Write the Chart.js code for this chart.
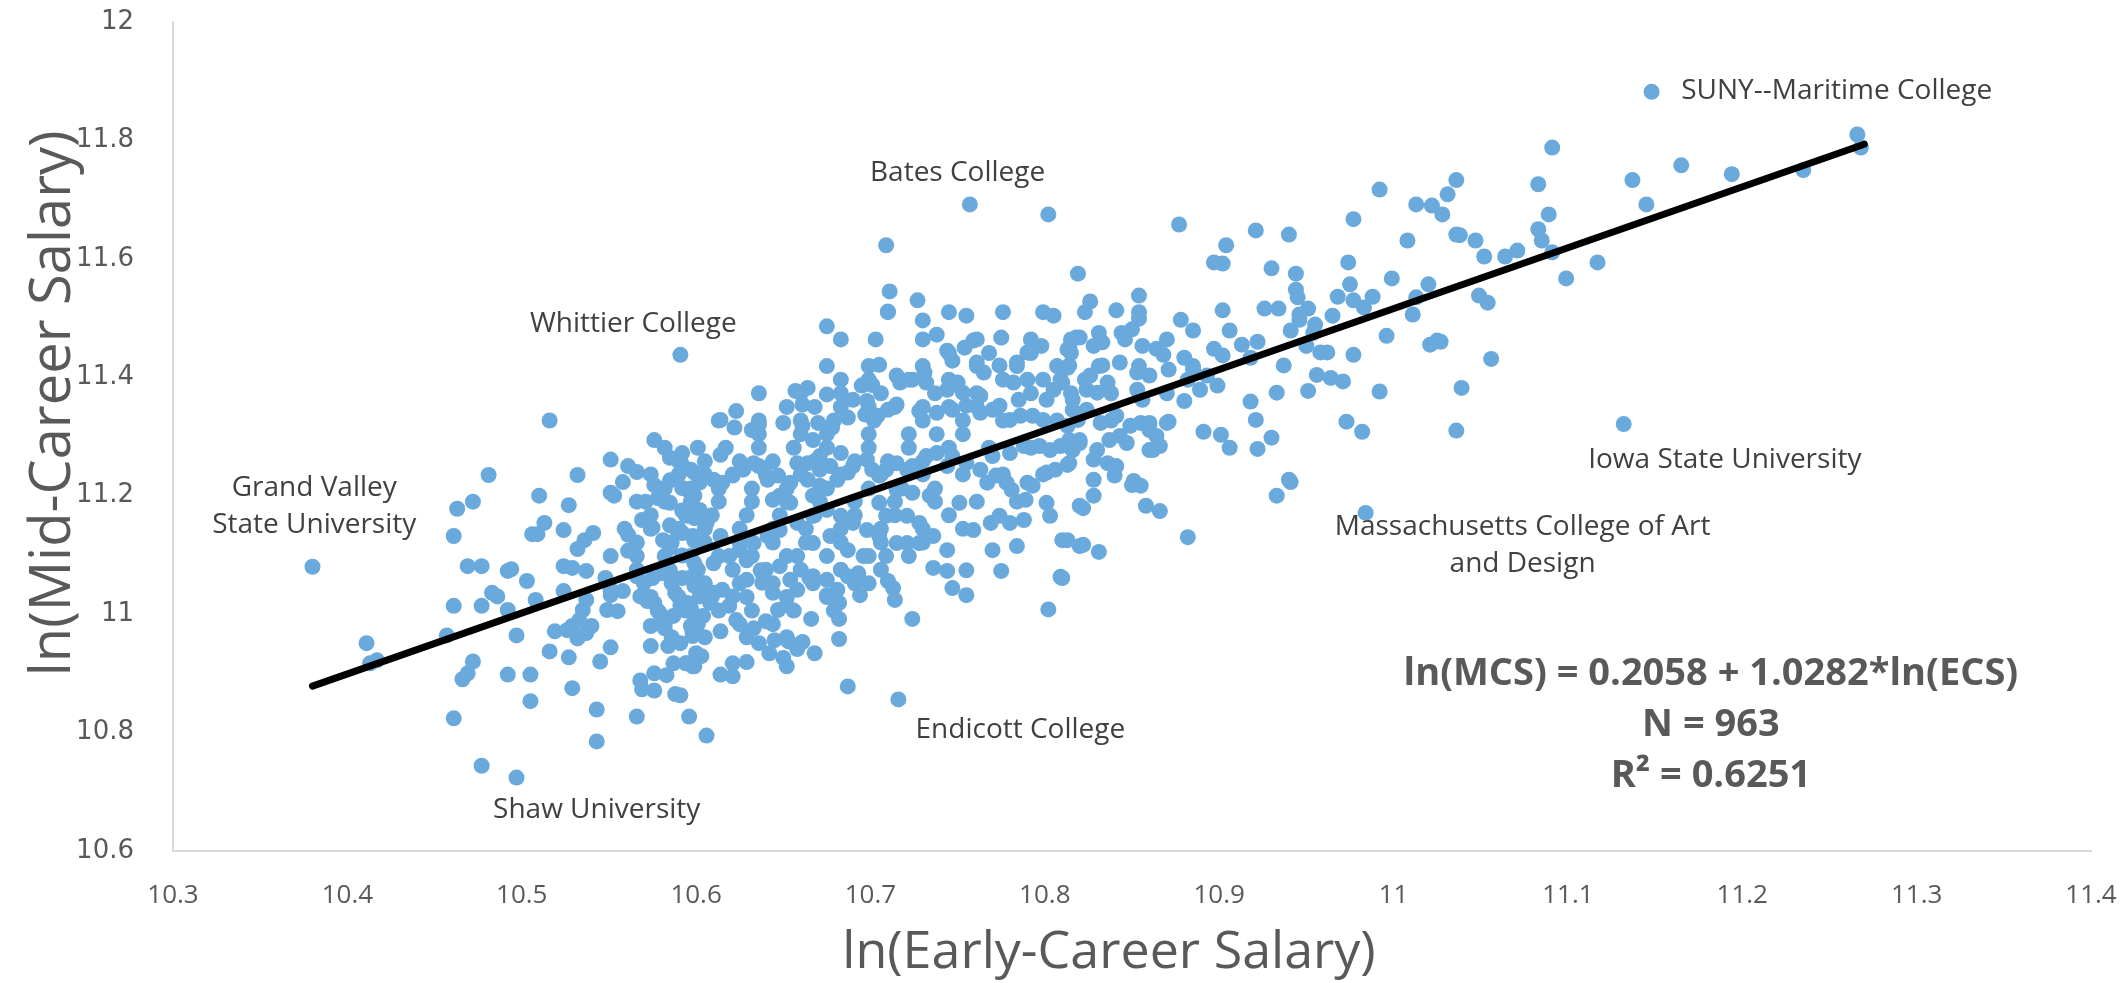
<!DOCTYPE html>
<html>
<head>
<meta charset="utf-8">
<script src="https://cdn.jsdelivr.net/npm/chart.js@4.4.0/dist/chart.umd.min.js"></script>
<style>
  html, body { margin: 0; padding: 0; background: #fff; }
  #wrap { width: 2126px; height: 983px; }
</style>
</head>
<body>
<div id="wrap"><canvas id="chart" width="2126" height="983"></canvas></div>
<script>
// [ln(early-career salary), ln(mid-career salary)] per school
const labelledSchools = [
  [10.380, 11.080], [11.148, 11.882], [10.757, 11.692], [10.591, 11.438],
  [11.132, 11.321], [10.984, 11.171], [10.716, 10.856], [10.497, 10.724]
];

const upperRight = [
  [11.266, 11.810], [11.268, 11.788], [11.235, 11.750], [11.194, 11.743], [11.165, 11.758],
  [11.137, 11.733], [11.145, 11.692], [11.091, 11.788], [11.083, 11.726], [11.089, 11.675],
  [11.083, 11.650], [11.085, 11.631], [11.091, 11.611], [11.117, 11.594], [11.099, 11.567],
  [11.036, 11.733], [11.031, 11.709], [11.028, 11.675], [11.038, 11.640], [11.047, 11.631],
  [11.052, 11.604], [11.064, 11.604], [11.071, 11.614], [11.049, 11.538], [11.054, 11.526],
  [11.027, 11.460], [11.056, 11.431], [11.039, 11.382], [11.036, 11.310],
  [10.992, 11.717], [11.013, 11.692], [11.022, 11.690], [11.008, 11.631], [10.977, 11.667],
  [11.036, 11.641], [10.877, 11.658], [10.921, 11.648], [10.940, 11.641], [10.904, 11.623],
  [10.897, 11.594], [10.902, 11.592], [10.930, 11.584], [10.944, 11.575], [10.974, 11.594],
  [10.975, 11.557], [10.999, 11.567], [10.802, 11.675], [10.709, 11.623], [10.711, 11.545],
  [10.727, 11.530], [10.819, 11.575], [10.826, 11.528], [10.854, 11.538]
];

const eastCluster = [
  [10.841, 11.513], [10.854, 11.499], [10.902, 11.513], [10.878, 11.497], [10.885, 11.479],
  [10.906, 11.479], [10.926, 11.516], [10.934, 11.516], [10.944, 11.548], [10.945, 11.535],
  [10.951, 11.516], [10.946, 11.506], [10.941, 11.479], [10.955, 11.489], [10.968, 11.536],
  [10.965, 11.504], [10.977, 11.530], [10.983, 11.518], [10.988, 11.536], [11.020, 11.557],
  [11.013, 11.535], [11.011, 11.506], [10.996, 11.470], [10.977, 11.438], [10.992, 11.376],
  [11.021, 11.455], [11.025, 11.462], [10.973, 11.325], [10.982, 11.308], [10.956, 11.404],
  [10.964, 11.399], [10.971, 11.393], [10.951, 11.377], [10.937, 11.420], [10.933, 11.374],
  [10.918, 11.359], [10.921, 11.328], [10.922, 11.279], [10.930, 11.298], [10.906, 11.281],
  [10.901, 11.303], [10.891, 11.308], [10.940, 11.227], [10.913, 11.455], [10.922, 11.460],
  [10.918, 11.433], [10.902, 11.437], [10.897, 11.448], [10.946, 11.497], [10.950, 11.453],
  [10.958, 11.442], [10.962, 11.442], [10.954, 11.475],
  [10.880, 11.433], [10.885, 11.413], [10.893, 11.403], [10.899, 11.386], [10.889, 11.379],
  [10.880, 11.360], [10.882, 11.396], [10.871, 11.413], [10.871, 11.325], [10.864, 11.301],
  [10.860, 11.277], [10.856, 11.453], [10.864, 11.448], [10.868, 11.438], [10.844, 11.475],
  [10.850, 11.481], [10.831, 11.475], [10.820, 11.467], [10.814, 11.450], [10.833, 11.459],
  [10.828, 11.453], [10.814, 11.420], [10.826, 11.403], [10.833, 11.420], [10.843, 11.425],
  [10.853, 11.408], [10.860, 11.403], [10.836, 11.391], [10.824, 11.379], [10.810, 11.391],
  [10.830, 11.374], [10.853, 11.379], [10.856, 11.362], [10.816, 11.362], [10.824, 11.345],
  [10.832, 11.323], [10.841, 11.335], [10.849, 11.318], [10.855, 11.323], [10.860, 11.323],
  [10.870, 11.323], [10.814, 11.294], [10.820, 11.289], [10.830, 11.277], [10.837, 11.294],
  [10.843, 11.301], [10.847, 11.289], [10.860, 11.311], [10.866, 11.284], [10.862, 11.277],
  [10.841, 11.250], [10.828, 11.261], [10.836, 11.255], [10.814, 11.255], [10.828, 11.227],
  [10.840, 11.234], [10.851, 11.225],
  [10.941, 11.223], [10.933, 11.200], [10.882, 11.130], [10.850, 11.218], [10.855, 11.217],
  [10.858, 11.183], [10.866, 11.174], [10.828, 11.200], [10.822, 11.179], [10.810, 11.125],
  [10.813, 11.125], [10.822, 11.117], [10.831, 11.105], [10.810, 11.061], [10.820, 11.183]
];

const middleCluster = [
  [10.710, 11.511], [10.730, 11.496], [10.738, 11.472], [10.755, 11.504], [10.805, 11.504],
  [10.675, 11.486], [10.703, 11.464], [10.705, 11.421], [10.744, 11.445], [10.747, 11.428],
  [10.754, 11.450], [10.759, 11.462], [10.775, 11.467], [10.790, 11.442], [10.798, 11.453],
  [10.784, 11.425], [10.774, 11.420], [10.761, 11.425], [10.765, 11.408], [10.813, 11.447],
  [10.818, 11.467], [10.813, 11.416], [10.683, 11.396], [10.657, 11.377], [10.664, 11.382],
  [10.661, 11.354], [10.675, 11.371], [10.623, 11.343], [10.614, 11.328], [10.622, 11.315],
  [10.632, 11.311], [10.636, 11.320], [10.650, 11.323], [10.661, 11.318], [10.670, 11.323],
  [10.678, 11.315], [10.687, 11.332], [10.697, 11.337], [10.704, 11.335], [10.710, 11.345],
  [10.715, 11.354], [10.717, 11.391], [10.715, 11.403], [10.724, 11.396], [10.731, 11.408],
  [10.732, 11.391], [10.695, 11.386], [10.701, 11.387], [10.690, 11.362], [10.698, 11.360],
  [10.728, 11.343], [10.738, 11.340], [10.744, 11.379], [10.750, 11.391], [10.753, 11.374],
  [10.747, 11.345], [10.755, 11.352], [10.763, 11.340], [10.763, 11.369], [10.770, 11.345],
  [10.774, 11.352], [10.780, 11.328], [10.786, 11.335], [10.793, 11.335], [10.799, 11.328],
  [10.805, 11.379], [10.809, 11.396], [10.801, 11.362], [10.782, 11.391], [10.790, 11.396],
  [10.785, 11.362], [10.816, 11.345], [10.819, 11.328], [10.813, 11.318],
  [10.667, 11.294], [10.671, 11.267], [10.664, 11.255], [10.671, 11.244], [10.677, 11.250],
  [10.683, 11.272], [10.614, 11.269], [10.592, 11.272], [10.597, 11.244], [10.602, 11.222],
  [10.595, 11.210], [10.610, 11.227], [10.615, 11.222], [10.621, 11.234], [10.627, 11.244],
  [10.633, 11.255], [10.636, 11.250], [10.641, 11.227], [10.647, 11.234], [10.654, 11.222],
  [10.658, 11.255], [10.648, 11.200], [10.654, 11.188], [10.644, 11.193], [10.664, 11.227],
  [10.667, 11.200], [10.671, 11.217], [10.681, 11.227], [10.687, 11.239], [10.690, 11.250],
  [10.698, 11.261], [10.701, 11.244], [10.705, 11.234], [10.709, 11.244], [10.715, 11.255],
  [10.721, 11.244], [10.724, 11.250], [10.732, 11.267], [10.738, 11.272], [10.744, 11.250],
  [10.747, 11.267], [10.755, 11.255], [10.763, 11.244], [10.767, 11.222], [10.772, 11.234],
  [10.778, 11.222], [10.781, 11.210], [10.789, 11.193], [10.793, 11.217], [10.801, 11.239],
  [10.806, 11.244], [10.813, 11.252], [10.816, 11.277], [10.820, 11.294], [10.770, 11.267],
  [10.780, 11.272], [10.788, 11.284], [10.797, 11.284], [10.803, 11.277], [10.809, 11.284],
  [10.751, 11.188], [10.759, 11.142], [10.769, 11.154], [10.774, 11.166], [10.780, 11.154],
  [10.788, 11.159], [10.801, 11.188], [10.803, 11.166], [10.770, 11.108], [10.784, 11.115],
  [10.820, 11.115], [10.790, 11.222],
  [10.715, 11.210], [10.724, 11.205], [10.734, 11.200], [10.705, 11.188], [10.709, 11.166],
  [10.721, 11.166], [10.728, 11.154], [10.736, 11.132], [10.744, 11.108], [10.715, 11.120],
  [10.705, 11.132], [10.698, 11.142], [10.690, 11.154], [10.683, 11.166], [10.675, 11.176],
  [10.667, 11.166], [10.658, 11.154], [10.648, 11.142], [10.641, 11.132], [10.633, 11.120],
  [10.625, 11.108], [10.619, 11.098], [10.614, 11.132], [10.606, 11.154], [10.602, 11.176],
  [10.595, 11.166], [10.598, 11.132], [10.610, 11.086], [10.629, 11.091], [10.638, 11.069],
  [10.648, 11.081], [10.658, 11.098], [10.667, 11.120], [10.677, 11.132], [10.687, 11.108],
  [10.696, 11.098], [10.709, 11.098], [10.721, 11.120], [10.728, 11.120]
];

// the solid core of the cloud, read row by row
const denseCore = [
  [10.699, 11.396], [10.722, 11.396], [10.745, 11.396], [10.776, 11.396], [10.799, 11.396], [10.823, 11.396],
  [10.745, 11.441], [10.768, 11.441], [10.792, 11.441], [10.815, 11.441],
  [10.652, 11.350], [10.668, 11.350], [10.683, 11.350], [10.699, 11.350], [10.714, 11.350],
  [10.730, 11.350], [10.745, 11.350], [10.761, 11.350],
  [10.636, 11.304], [10.660, 11.304], [10.675, 11.304], [10.699, 11.304], [10.722, 11.304],
  [10.738, 11.304], [10.753, 11.304],
  [10.590, 11.258], [10.605, 11.258], [10.625, 11.258], [10.644, 11.258], [10.668, 11.258],
  [10.691, 11.258], [10.710, 11.258], [10.730, 11.258],
  [10.582, 11.212], [10.597, 11.212], [10.613, 11.212], [10.632, 11.212], [10.652, 11.212],
  [10.675, 11.212], [10.699, 11.212], [10.718, 11.212], [10.737, 11.212],
  [10.574, 11.167], [10.594, 11.167], [10.609, 11.167], [10.629, 11.167], [10.648, 11.167],
  [10.668, 11.167], [10.691, 11.167], [10.714, 11.167], [10.745, 11.167],
  [10.566, 11.121], [10.586, 11.121], [10.605, 11.121], [10.625, 11.121], [10.644, 11.121],
  [10.663, 11.121], [10.683, 11.121], [10.706, 11.121], [10.730, 11.121],
  [10.566, 11.075], [10.582, 11.075], [10.601, 11.075], [10.621, 11.075], [10.640, 11.075],
  [10.660, 11.075], [10.683, 11.075], [10.706, 11.075],
  [10.574, 11.029], [10.590, 11.029], [10.609, 11.029], [10.629, 11.029], [10.652, 11.029],
  [10.675, 11.029],
  [10.582, 10.983], [10.601, 10.983], [10.625, 10.983], [10.644, 10.983]
];

// second pass through the core, between the rows above
const denseCoreFill = [
  [10.710, 11.510], [10.745, 11.510], [10.776, 11.510], [10.799, 11.510], [10.823, 11.510], [10.854, 11.510],
  [10.683, 11.464], [10.730, 11.464], [10.761, 11.464], [10.792, 11.464], [10.815, 11.464],
  [10.846, 11.464], [10.870, 11.464],
  [10.675, 11.419], [10.699, 11.419], [10.730, 11.419], [10.761, 11.419], [10.784, 11.419],
  [10.807, 11.419], [10.831, 11.419], [10.854, 11.419], [10.885, 11.419],
  [10.636, 11.373], [10.660, 11.373], [10.683, 11.373], [10.706, 11.373], [10.737, 11.373],
  [10.761, 11.373], [10.792, 11.373], [10.815, 11.373], [10.838, 11.373], [10.870, 11.373],
  [10.613, 11.327], [10.636, 11.327], [10.660, 11.327], [10.679, 11.327], [10.702, 11.327],
  [10.730, 11.327], [10.753, 11.327], [10.776, 11.327], [10.807, 11.327], [10.838, 11.327],
  [10.582, 11.281], [10.601, 11.281], [10.617, 11.281], [10.636, 11.281], [10.656, 11.281],
  [10.675, 11.281], [10.699, 11.281], [10.722, 11.281], [10.745, 11.281], [10.768, 11.281],
  [10.792, 11.281], [10.815, 11.281],
  [10.574, 11.236], [10.590, 11.236], [10.605, 11.236], [10.621, 11.236], [10.640, 11.236],
  [10.660, 11.236], [10.683, 11.236], [10.706, 11.236], [10.730, 11.236], [10.753, 11.236],
  [10.776, 11.236], [10.799, 11.236],
  [10.566, 11.190], [10.582, 11.190], [10.597, 11.190], [10.613, 11.190], [10.632, 11.190],
  [10.652, 11.190], [10.671, 11.190], [10.691, 11.190], [10.714, 11.190], [10.737, 11.190],
  [10.761, 11.190], [10.784, 11.190],
  [10.559, 11.144], [10.574, 11.144], [10.590, 11.144], [10.605, 11.144], [10.625, 11.144],
  [10.644, 11.144], [10.663, 11.144], [10.683, 11.144], [10.706, 11.144], [10.730, 11.144],
  [10.753, 11.144],
  [10.566, 11.098], [10.582, 11.098], [10.597, 11.098], [10.613, 11.098], [10.632, 11.098],
  [10.652, 11.098], [10.675, 11.098], [10.699, 11.098], [10.722, 11.098],
  [10.570, 11.052], [10.586, 11.052], [10.605, 11.052], [10.625, 11.052], [10.644, 11.052],
  [10.667, 11.052], [10.691, 11.052],
  [10.578, 11.006], [10.594, 11.006], [10.613, 11.006], [10.632, 11.006], [10.656, 11.006],
  [10.679, 11.006],
  [10.586, 10.961], [10.605, 10.961], [10.629, 10.961], [10.652, 10.961]
];

const lowerCluster = [
  [10.614, 10.971], [10.598, 10.968], [10.603, 10.929], [10.598, 10.912], [10.594, 10.917],
  [10.591, 10.863], [10.606, 10.795], [10.614, 10.898], [10.621, 10.895], [10.621, 10.917],
  [10.629, 10.919], [10.633, 10.976], [10.636, 10.951], [10.640, 10.988], [10.642, 10.934],
  [10.645, 10.956], [10.650, 10.926], [10.652, 10.912], [10.653, 10.954], [10.658, 10.941],
  [10.661, 10.953], [10.668, 10.934], [10.647, 11.007], [10.652, 11.015], [10.666, 10.992],
  [10.682, 10.992], [10.682, 10.958], [10.687, 10.878], [10.724, 10.992], [10.714, 11.024],
  [10.713, 11.044], [10.710, 11.056], [10.694, 11.032], [10.699, 11.052], [10.693, 11.069],
  [10.675, 11.032], [10.681, 11.041], [10.682, 11.019], [10.667, 11.064], [10.675, 11.058],
  [10.687, 11.064], [10.736, 11.078], [10.744, 11.073], [10.755, 11.074], [10.775, 11.073],
  [10.747, 11.044], [10.755, 11.032], [10.809, 11.063], [10.802, 11.008],
  [10.595, 11.019], [10.598, 11.002], [10.604, 10.997], [10.608, 11.019], [10.602, 11.030],
  [10.610, 11.036], [10.615, 11.041], [10.621, 11.030], [10.623, 10.990], [10.619, 11.014],
  [10.629, 11.058], [10.638, 11.053], [10.644, 11.036], [10.654, 11.058], [10.658, 11.041],
  [10.665, 11.061], [10.637, 11.074]
];

const westCluster = [
  [10.516, 11.327], [10.576, 11.294], [10.551, 11.261], [10.561, 11.250], [10.566, 11.240],
  [10.558, 11.223], [10.576, 11.218], [10.551, 11.205], [10.553, 11.200], [10.571, 11.190],
  [10.578, 11.196], [10.532, 11.235], [10.481, 11.235], [10.463, 11.178], [10.472, 11.190],
  [10.510, 11.200], [10.527, 11.184], [10.513, 11.154], [10.506, 11.135], [10.509, 11.135],
  [10.524, 11.142], [10.461, 11.132], [10.541, 11.137], [10.536, 11.125], [10.532, 11.110],
  [10.551, 11.098], [10.561, 11.134], [10.569, 11.159], [10.575, 11.146], [10.581, 11.125],
  [10.589, 11.142], [10.561, 11.107], [10.564, 11.108], [10.469, 11.081], [10.477, 11.081],
  [10.492, 11.073], [10.494, 11.076], [10.503, 11.056], [10.524, 11.081], [10.529, 11.078],
  [10.537, 11.073], [10.548, 11.061],
  [10.585, 11.264], [10.592, 11.252], [10.599, 11.239], [10.585, 11.226], [10.592, 11.213],
  [10.599, 11.200], [10.585, 11.188], [10.592, 11.175], [10.599, 11.162], [10.585, 11.150],
  [10.592, 11.137], [10.599, 11.124], [10.585, 11.112], [10.592, 11.099], [10.599, 11.086],
  [10.585, 11.074], [10.592, 11.061], [10.599, 11.048],
  [10.483, 11.036], [10.486, 11.030], [10.461, 11.014], [10.477, 11.014], [10.492, 11.007],
  [10.508, 11.024], [10.524, 11.039], [10.411, 10.951], [10.417, 10.922], [10.413, 10.917],
  [10.457, 10.964], [10.472, 10.920], [10.469, 10.900], [10.466, 10.890], [10.497, 10.964],
  [10.492, 10.898], [10.505, 10.898], [10.505, 10.853], [10.461, 10.824], [10.477, 10.744],
  [10.516, 10.937], [10.527, 10.927], [10.529, 10.875], [10.519, 10.971], [10.526, 10.973],
  [10.532, 10.959], [10.540, 10.980], [10.545, 10.920], [10.551, 10.944], [10.543, 10.839],
  [10.543, 10.785], [10.566, 10.827], [10.568, 10.888], [10.569, 10.873], [10.576, 10.871],
  [10.588, 10.865], [10.596, 10.827], [10.574, 10.946], [10.574, 10.980], [10.576, 10.900],
  [10.583, 10.897], [10.584, 10.946], [10.587, 10.917], [10.595, 10.917], [10.599, 10.912],
  [10.537, 11.024], [10.535, 11.007], [10.533, 10.990], [10.529, 10.980], [10.537, 10.968],
  [10.549, 11.007], [10.555, 11.005], [10.551, 11.032], [10.568, 11.030], [10.572, 11.022],
  [10.576, 11.019], [10.579, 11.002], [10.581, 10.985], [10.587, 10.997], [10.591, 11.014],
  [10.597, 10.980], [10.575, 11.061], [10.581, 11.069], [10.566, 11.064], [10.598, 11.064],
  [10.551, 11.041], [10.558, 11.039], [10.598, 10.973], [10.598, 10.963], [10.588, 11.036],
  [10.597, 11.010], [10.582, 10.976], [10.591, 10.951], [10.600, 10.934]
];

// fitted line reported on the chart
const fitIntercept = 0.2058;
const fitSlope = 1.0282;
const fitRange = [10.38, 11.27];
const fitText = ['ln(MCS) = 0.2058 + 1.0282*ln(ECS)', 'N = 963', 'R\u00B2 = 0.6251'];

const xTicks = { min: 10.3, max: 11.4, step: 0.1 };
const yTicks = { min: 10.6, max: 12, step: 0.2 };
const xTitle = 'ln(Early-Career Salary)';
const yTitle = 'ln(Mid-Career Salary)';

// school name labels anchored in data units
const schoolNames = [
  { lines: ['SUNY--Maritime College'], at: [11.165, 11.883], align: 'left' },
  { lines: ['Bates College'], at: [10.750, 11.745], align: 'center' },
  { lines: ['Whittier College'], at: [10.564, 11.490], align: 'center' },
  { lines: ['Grand Valley', 'State University'], at: [10.381, 11.213], align: 'center' },
  { lines: ['Iowa State University'], at: [11.190, 11.260], align: 'center' },
  { lines: ['Massachusetts College of Art', 'and Design'], at: [11.074, 11.147], align: 'center' },
  { lines: ['Endicott College'], at: [10.786, 10.804], align: 'center' },
  { lines: ['Shaw University'], at: [10.543, 10.669], align: 'center' }
];
const fitTextAt = [11.182, 10.899];

const toPoints = rows => rows.map(r => ({ x: r[0], y: r[1] }));
const scatterPoints = toPoints([].concat(labelledSchools, upperRight, eastCluster,
  middleCluster, denseCore, denseCoreFill, lowerCluster, westCluster));
const fitPoints = fitRange.map(v => ({ x: v, y: fitIntercept + fitSlope * v }));

const axisGrey = '#595959';
const fontFamily = '"Open Sans", "Noto Sans", sans-serif';

const labelsPlugin = {
  id: 'schoolLabels',
  afterDraw(chart) {
    const { ctx, chartArea } = chart;
    const xs = chart.scales.x, ys = chart.scales.y;
    ctx.save();
    ctx.textBaseline = 'middle';
    ctx.fillStyle = '#404040';
    ctx.font = '28px ' + fontFamily;
    schoolNames.forEach(s => {
      ctx.textAlign = s.align;
      const px = xs.getPixelForValue(s.at[0]);
      const py = ys.getPixelForValue(s.at[1]);
      s.lines.forEach((t, i) => ctx.fillText(t, px, py + i * 37));
    });

    ctx.fillStyle = axisGrey;
    ctx.font = 'bold 38px ' + fontFamily;
    ctx.textAlign = 'center';
    const fx = xs.getPixelForValue(fitTextAt[0]);
    const fy = ys.getPixelForValue(fitTextAt[1]);
    fitText.forEach((t, i) => ctx.fillText(t, fx, fy + i * 51));

    // axis titles (Excel centres them slightly off the plot middle)
    ctx.font = '52px ' + fontFamily;
    ctx.fillText(xTitle, chartArea.left + chartArea.width * 0.488, 953);
    ctx.translate(54, chartArea.top + chartArea.height * 0.46);
    ctx.rotate(-Math.PI / 2);
    ctx.font = '56px ' + fontFamily;
    ctx.fillText(yTitle, 0, 0);
    ctx.restore();
  }
};

const fmt = v => String(Number(v.toFixed(1)));

new Chart(document.getElementById('chart'), {
  type: 'scatter',
  data: {
    datasets: [
      {
        label: 'Schools',
        data: scatterPoints,
        backgroundColor: '#6aa9dc',
        borderWidth: 0,
        pointRadius: 8,
        pointHoverRadius: 8,
        order: 2
      },
      {
        type: 'line',
        label: 'Fit',
        data: fitPoints,
        borderColor: '#000000',
        borderWidth: 7,
        borderCapStyle: 'round',
        pointRadius: 0,
        fill: false,
        order: 1
      }
    ]
  },
  options: {
    responsive: false,
    devicePixelRatio: 1,
    animation: false,
    layout: { padding: { top: 22, right: 35, left: 0, bottom: 0 } },
    plugins: {
      legend: { display: false },
      tooltip: { enabled: false }
    },
    scales: {
      x: {
        type: 'linear',
        min: xTicks.min,
        max: xTicks.max,
        afterFit: s => { s.height = 132; s.paddingLeft = 0; s.paddingRight = 0; },
        grid: { display: false },
        border: { display: true, color: '#d9d9d9', width: 2 },
        ticks: {
          stepSize: xTicks.step,
          padding: 21,
          color: axisGrey,
          font: { family: fontFamily, size: 26 },
          callback: v => fmt(v)
        }
      },
      y: {
        type: 'linear',
        min: yTicks.min,
        max: yTicks.max,
        afterFit: s => { s.width = 173; s.paddingTop = 0; s.paddingBottom = 0; },
        grid: { display: false },
        border: { display: true, color: '#d9d9d9', width: 2 },
        ticks: {
          stepSize: yTicks.step,
          padding: 31,
          color: axisGrey,
          font: { family: '"DejaVu Sans", sans-serif', size: 26 },
          callback: v => fmt(v)
        }
      }
    }
  },
  plugins: [labelsPlugin]
});
</script>
</body>
</html>
